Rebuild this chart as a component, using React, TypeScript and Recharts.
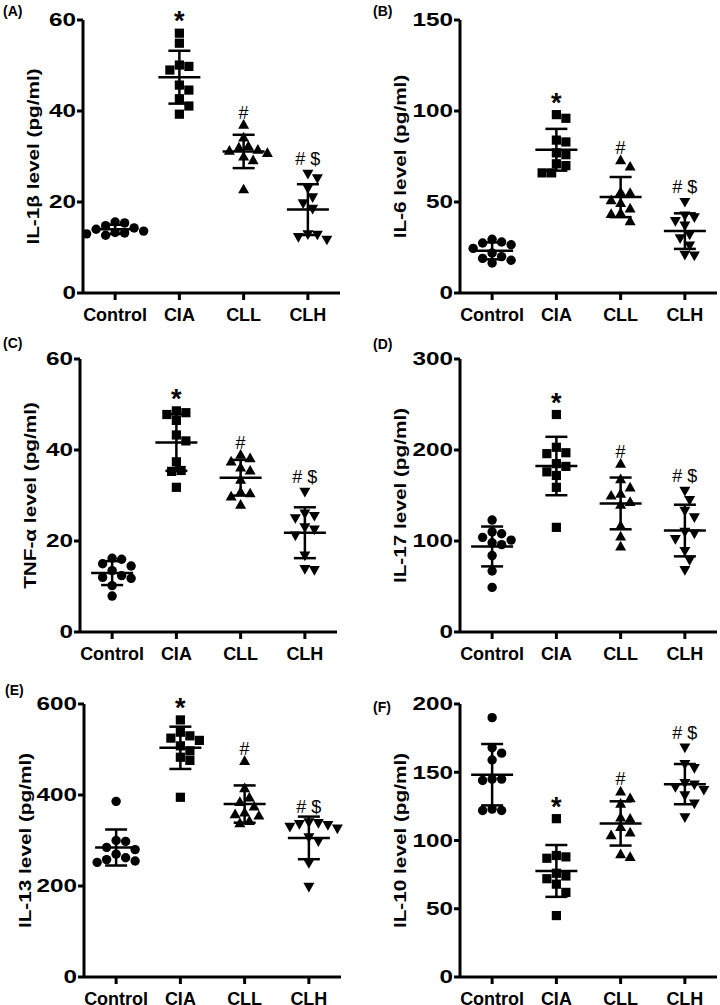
import React from "react";
import { ScatterChart, Scatter, XAxis, YAxis, ErrorBar } from "recharts";

const GROUPS = ["Control", "CIA", "CLL", "CLH"];
const SIG_MARKS = ["", "*", "#", "# $"];

// (A) IL-1β, pg/ml
const IL1B_CONTROL = [15.6, 15.4, 14.8, 14.3, 14.0, 13.6, 13.3, 13.0, 12.7, 13.2];
const IL1B_CIA = [57.1, 54.9, 50.1, 49.8, 49.0, 45.7, 44.6, 42.7, 41.1, 39.3];
const IL1B_CLL = [37.0, 34.2, 32.3, 32.0, 31.5, 31.3, 30.8, 30.0, 29.2, 22.8];
const IL1B_CLH = [26.2, 25.2, 23.0, 21.0, 19.7, 18.5, 12.9, 12.8, 11.7, 12.3];

// (B) IL-6
const IL6_CONTROL = [29.5, 28.0, 27.5, 26.5, 24.5, 22.0, 20.0, 19.0, 18.0, 16.5];
const IL6_CIA = [98, 96, 84, 83, 77, 76, 71, 70, 66, 66];
const IL6_CLL = [73, 69.5, 55.5, 55, 51, 49.5, 46.5, 44, 43.5, 39.5];
const IL6_CLH = [50, 42.5, 41.5, 39.5, 37, 32, 30, 26, 21, 20.5];

// (C) TNF-α
const TNF_CONTROL = [16.2, 16.0, 15.0, 14.5, 13.5, 12.4, 12.0, 11.8, 10.2, 7.9];
const TNF_CIA = [48.6, 48.2, 47.8, 46.5, 43.3, 42.0, 37.4, 35.5, 35.3, 31.8];
const TNF_CLL = [39.0, 38.2, 37.5, 36.2, 35.5, 33.5, 30.8, 30.5, 29.8, 28.0];
const TNF_CLH = [30.8, 26.0, 25.5, 25.0, 23.0, 22.5, 21.2, 16.8, 13.8, 13.6];

// (D) IL-17
const IL17_CONTROL = [123, 110, 108, 104, 101, 98, 96, 84, 67, 49];
const IL17_CIA = [239, 203, 197, 196, 185, 182, 176, 172, 159, 115];
const IL17_CLL = [185, 168, 159, 152, 150, 143, 140, 117, 105, 94];
const IL17_CLH = [155, 145, 133, 126, 110, 108, 102, 89, 79, 68];

// (E) IL-13
const IL13_CONTROL = [386, 300, 298, 285, 280, 270, 262, 258, 255, 252];
const IL13_CIA = [565, 538, 530, 525, 520, 508, 497, 483, 476, 395];
const IL13_CLL = [475, 415, 395, 385, 375, 362, 358, 355, 343, 338];
const IL13_CLH = [340, 338, 336, 334, 330, 326, 307, 298, 250, 198];

// (F) IL-10
const IL10_CONTROL = [190, 168, 164, 159, 145, 145, 144, 123, 122, 122];
const IL10_CIA = [116, 89, 88, 87, 76, 74, 72, 68, 62, 45];
const IL10_CLL = [136, 131, 127, 117, 116, 110, 106, 104, 90, 88];
const IL10_CLH = [168, 156, 153, 142, 141, 139, 137, 133, 127, 117];

const TICKS_A = [0, 20, 40, 60];
const TICKS_B = [0, 50, 100, 150];
const TICKS_C = [0, 20, 40, 60];
const TICKS_D = [0, 100, 200, 300];
const TICKS_E = [0, 200, 400, 600];
const TICKS_F = [0, 50, 100, 150, 200];

const FONT = "'Liberation Sans', Arial, Helvetica, sans-serif";
const PLOT_H = 273;
const MARK = 9.5;

type Panel = {
  tag: string;
  yLabel: string;
  ticks: number[];
  groups: number[][];
  x0: number;
  y0: number;
  plotLeft: number;
  plotTop: number;
  plotRight: number;
  labelX: number;
  tagX: number;
  tagY: number;
};

const PANELS: Panel[] = [
  { tag: "(A)", yLabel: "IL-1β level (pg/ml)", ticks: TICKS_A, groups: [IL1B_CONTROL, IL1B_CIA, IL1B_CLL, IL1B_CLH], x0: 0, y0: 0, plotLeft: 83, plotTop: 20, plotRight: 340, labelX: 33, tagX: 3, tagY: 16 },
  { tag: "(B)", yLabel: "IL-6 level (pg/ml)", ticks: TICKS_B, groups: [IL6_CONTROL, IL6_CIA, IL6_CLL, IL6_CLH], x0: 360, y0: 0, plotLeft: 100, plotTop: 20, plotRight: 357, labelX: 40, tagX: 13, tagY: 16 },
  { tag: "(C)", yLabel: "TNF-α level (pg/ml)", ticks: TICKS_C, groups: [TNF_CONTROL, TNF_CIA, TNF_CLL, TNF_CLH], x0: 0, y0: 335, plotLeft: 80, plotTop: 24, plotRight: 337, labelX: 30, tagX: 3, tagY: 13 },
  { tag: "(D)", yLabel: "IL-17 level (pg/ml)", ticks: TICKS_D, groups: [IL17_CONTROL, IL17_CIA, IL17_CLL, IL17_CLH], x0: 360, y0: 335, plotLeft: 100, plotTop: 24, plotRight: 357, labelX: 40, tagX: 13, tagY: 14 },
  { tag: "(E)", yLabel: "IL-13 level (pg/ml)", ticks: TICKS_E, groups: [IL13_CONTROL, IL13_CIA, IL13_CLL, IL13_CLH], x0: 0, y0: 670, plotLeft: 84, plotTop: 34, plotRight: 341, labelX: 25, tagX: 5, tagY: 25 },
  { tag: "(F)", yLabel: "IL-10 level (pg/ml)", ticks: TICKS_F, groups: [IL10_CONTROL, IL10_CIA, IL10_CLL, IL10_CLH], x0: 360, y0: 670, plotLeft: 100, plotTop: 34, plotRight: 357, labelX: 40, tagX: 13, tagY: 42 },
];

function meanSd(v: number[]) {
  const m = v.reduce((a, b) => a + b, 0) / v.length;
  const sd = Math.sqrt(v.reduce((a, b) => a + (b - m) ** 2, 0) / (v.length - 1));
  return { m, sd };
}

// spread points sideways so markers don't overlap (like a prism scatter dot plot)
function swarm(values: number[], pxPerUnit: number, unitPx: number) {
  const order = values.map((_, i) => i).sort((a, b) => values[b] - values[a]);
  const placed: { x: number; y: number }[] = [];
  const out = new Array(values.length).fill(0);
  for (const i of order) {
    const y = values[i] * pxPerUnit;
    let chosen = 0;
    for (let k = 0; k < 40; k++) {
      const step = Math.ceil(k / 2) * MARK * 0.5;
      const cand = k % 2 === 1 ? step : -step;
      if (placed.every((p) => Math.hypot(p.x - cand, p.y - y) >= MARK)) {
        chosen = cand;
        break;
      }
    }
    placed.push({ x: chosen, y });
    out[i] = chosen / unitPx;
  }
  return out;
}

const Circle = (props: any) => <circle cx={props.cx} cy={props.cy} r={4.7} fill="#000" />;
const Square = (props: any) => (
  <rect x={props.cx - 4.6} y={props.cy - 4.6} width={9.2} height={9.2} fill="#000" />
);
const TriUp = (props: any) => {
  const { cx, cy } = props;
  return <polygon points={`${cx},${cy - 5.6} ${cx + 5.5},${cy + 4.1} ${cx - 5.5},${cy + 4.1}`} fill="#000" />;
};
const TriDown = (props: any) => {
  const { cx, cy } = props;
  return <polygon points={`${cx},${cy + 5.6} ${cx + 5.5},${cy - 4.1} ${cx - 5.5},${cy - 4.1}`} fill="#000" />;
};
const MARKERS = [Circle, Square, TriUp, TriDown];

const MeanLine = (props: any) => (
  <line x1={props.cx - 21} x2={props.cx + 21} y1={props.cy} y2={props.cy} stroke="#000" strokeWidth={2.5} />
);

const Note = (props: any) => {
  const { cx, cy, payload } = props;
  const star = payload.text === "*";
  return (
    <text
      x={cx}
      y={cy - (star ? 3 : payload.text.length > 1 ? 9 : 6)}
      textAnchor="middle"
      fontFamily={FONT}
      fontSize={star ? 27 : 18}
      fontWeight={star ? "bold" : "normal"}
      fill="#000"
    >
      {payload.text}
    </text>
  );
};

const YTick = (props: any) => {
  const { x, y, payload } = props;
  return (
    <text
      transform={`translate(${x},${y}) scale(1.35,1)`}
      textAnchor="end"
      dy="0.36em"
      fontFamily={FONT}
      fontSize={18}
      fontWeight="bold"
      fill="#000"
    >
      {payload.value}
    </text>
  );
};

function PanelChart({ p }: { p: Panel }) {
  const width = 360;
  const height = p.plotTop + PLOT_H + 40;
  const yMax = p.ticks[p.ticks.length - 1];
  const unitPx = (p.plotRight - p.plotLeft) / GROUPS.length;
  const pxPerUnit = PLOT_H / yMax;

  const points = p.groups.map((vals, gi) => {
    const off = swarm(vals, pxPerUnit, unitPx);
    return vals.map((v, i) => ({ x: gi + off[i], y: v }));
  });
  const stats = p.groups.map((vals, gi) => {
    const { m, sd } = meanSd(vals);
    return { x: gi, y: m, sd };
  });
  const notes = p.groups
    .map((vals, gi) => ({ x: gi, y: Math.max(...vals), text: SIG_MARKS[gi] }))
    .filter((n) => n.text);

  const axisStyle = { stroke: "#000", strokeWidth: 3 };

  return (
    <div style={{ position: "absolute", left: p.x0, top: p.y0, width, height }}>
      <ScatterChart
        width={width}
        height={height}
        margin={{ top: p.plotTop, right: width - p.plotRight, bottom: 0, left: 0 }}
      >
        <XAxis
          type="number"
          dataKey="x"
          domain={[-0.5, 3.5]}
          ticks={[0, 1, 2, 3]}
          interval={0}
          tickFormatter={(i: number) => GROUPS[i]}
          height={40}
          axisLine={axisStyle}
          tickLine={axisStyle}
          tickSize={7}
          tickMargin={8}
          tick={{ fill: "#000", fontSize: 18, fontWeight: "bold", fontFamily: FONT }}
        />
        <YAxis
          type="number"
          dataKey="y"
          domain={[0, yMax]}
          ticks={p.ticks}
          interval={0}
          width={p.plotLeft}
          axisLine={axisStyle}
          tickLine={axisStyle}
          tickSize={6}
          tickMargin={1}
          tick={<YTick />}
        />
        {points.map((d, gi) => (
          <Scatter key={GROUPS[gi]} data={d} shape={MARKERS[gi]} isAnimationActive={false} />
        ))}
        <Scatter data={stats} shape={MeanLine} isAnimationActive={false}>
          <ErrorBar dataKey="sd" direction="y" width={11} stroke="#000" strokeWidth={2.5} />
        </Scatter>
        <Scatter data={notes} shape={Note} isAnimationActive={false} />
      </ScatterChart>
      <svg
        width={width}
        height={height}
        style={{ position: "absolute", left: 0, top: 0, pointerEvents: "none" }}
      >
        <text x={p.tagX} y={p.tagY} fontFamily={FONT} fontSize={14} fontWeight="bold" fill="#000">
          {p.tag}
        </text>
        <text
          transform={`translate(${p.labelX},${p.plotTop + PLOT_H / 2}) rotate(-90) scale(1.22,1)`}
          textAnchor="middle"
          dy="0.35em"
          fontFamily={FONT}
          fontSize={17}
          fontWeight="bold"
          fill="#000"
        >
          {p.yLabel}
        </text>
      </svg>
    </div>
  );
}

export default function App() {
  return (
    <div style={{ position: "absolute", left: 0, top: 0, width: 720, height: 1005, background: "#fff" }}>
      {PANELS.map((p) => (
        <PanelChart key={p.tag} p={p} />
      ))}
    </div>
  );
}
